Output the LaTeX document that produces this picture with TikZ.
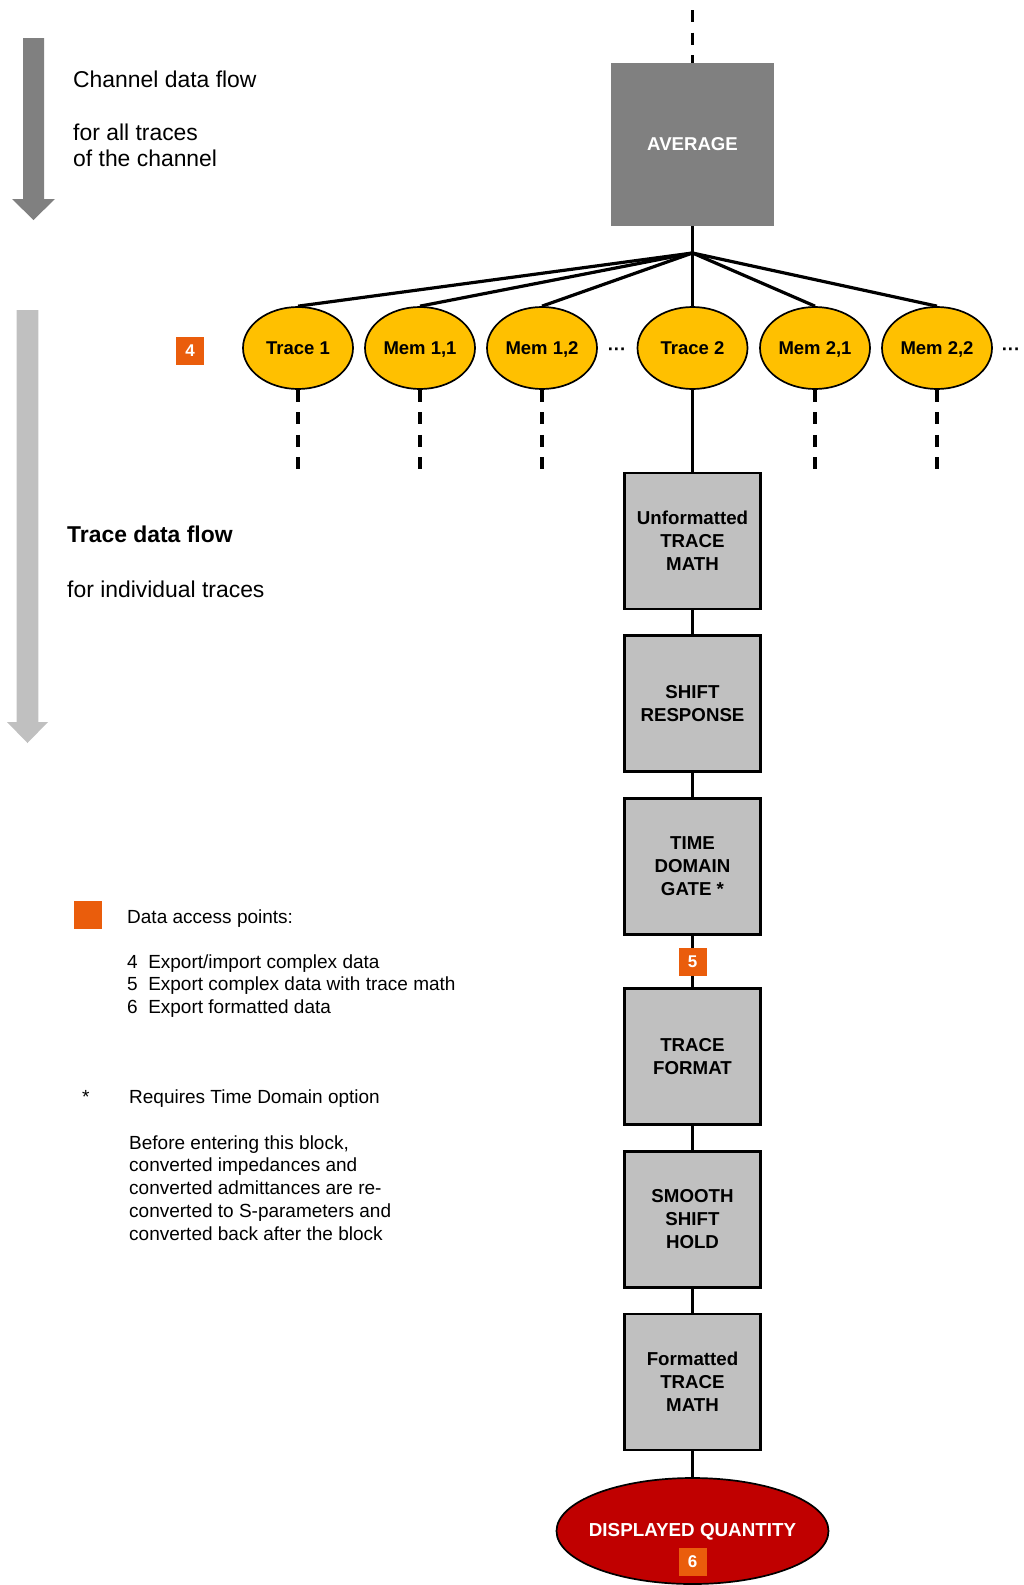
\documentclass[tikz,border=0pt]{standalone}
\usepackage{fontspec}
\setmainfont{Liberation Sans}
\usetikzlibrary{shapes.geometric}
\definecolor{orng}{RGB}{234,93,12}
\definecolor{goldy}{RGB}{255,192,0}
\definecolor{dred}{RGB}{192,0,0}
\definecolor{lgray}{RGB}{192,192,192}
\definecolor{dgray}{RGB}{128,128,128}
\begin{document}
\begin{tikzpicture}[x=1pt,y=-1pt,
  wire/.style={line width=3.2pt},
  dwire/.style={line width=3.8pt, dash pattern=on 12pt off 10.5pt},
  ell/.style={ellipse, draw, line width=1.7pt, fill=goldy, minimum width=110pt, minimum height=82pt, inner sep=0pt, text depth=0pt, font=\fontsize{18.5}{23}\selectfont\bfseries},
  blk/.style={rectangle, draw, line width=2.5pt, fill=lgray, minimum width=136pt, minimum height=136pt, inner sep=0pt, align=center, font=\fontsize{18.7}{23}\selectfont\bfseries},
  accpt/.style={rectangle, fill=orng, text=white, minimum size=28pt, inner sep=0pt, font=\fontsize{17}{17}\selectfont\bfseries},
  bigtxt/.style={anchor=base west, inner sep=0pt, font=\fontsize{22.9}{26.7}\selectfont, align=left},
  smtxt/.style={anchor=base west, inner sep=0pt, font=\fontsize{19}{22.8}\selectfont, align=left},
  dotstxt/.style={anchor=base, inner sep=0pt, font=\fontsize{18.5}{23}\selectfont\bfseries}
]
\useasboundingbox (0,0) rectangle (1024,1585);

% left flow arrows
\fill[dgray] (23,38) -- (44,38) -- (44,199) -- (55,199) -- (33.5,220) -- (12,199) -- (23,199) -- cycle;
\fill[lgray] (16.7,310) -- (38.3,310) -- (38.3,722) -- (48,722) -- (27.5,743) -- (7,722) -- (16.7,722) -- cycle;

% left texts (multi-line nodes: base = last line)
\node[bigtxt] (cdf) at (73,87) {Channel data flow};
\node[bigtxt] (fat) at (73,166.7) {for all traces\\of the channel};
\node[bigtxt, font=\fontsize{22.9}{26.7}\selectfont\bfseries] (tdf) at (67,542) {Trace data flow};
\node[bigtxt] (fit) at (67,597) {for individual traces};

% legend
\node[accpt] (lgsq) at (88,915) {};
\node[smtxt] (dap) at (127,923) {Data access points:};
\node[smtxt] (lgl) at (127,1013.6) {4\hspace{10.5pt}Export/import complex data\\5\hspace{10.5pt}Export complex data with trace math\\6\hspace{10.5pt}Export formatted data};
\node[smtxt] (star) at (82,1103) {*};
\node[smtxt] (req) at (129,1103) {Requires Time Domain option};
\node[smtxt] (bef) at (129,1240.2) {Before entering this block,\\converted impedances and\\converted admittances are re-\\converted to S-parameters and\\converted back after the block};

% average
\node[rectangle, fill=dgray, minimum width=163pt, minimum height=163pt, inner sep=0pt, text=white, font=\fontsize{18.6}{23}\selectfont\bfseries] (avg) at (692.5,144.5) {AVERAGE};
\coordinate (top) at (692.5,10);
\draw[dwire] (top) -- (avg.north);
\coordinate (j) at (692.5,253);
\draw[wire] (avg.south) -- (j);

% traces / memories
\node[ell] (t1) at (298,348) {Trace 1};
\node[ell] (m11) at (420,348) {Mem 1,1};
\node[ell] (m12) at (542,348) {Mem 1,2};
\node[ell] (t2) at (692.5,348) {Trace 2};
\node[ell] (m21) at (815,348) {Mem 2,1};
\node[ell] (m22) at (937,348) {Mem 2,2};
\node[dotstxt] (dt1) at (617,355) {···};
\node[dotstxt] (dt2) at (1011,355) {···};
\node[accpt] (a4) at (190,351) {4};

\foreach \n in {t1,m11,m12,t2,m21,m22} \draw[wire] (j) -- (\n.north);
\foreach \n/\x in {t1/298,m11/420,m12/542,m21/815,m22/937} {
  \coordinate (e\n) at (\x,470);
  \draw[dwire] (\n.south) -- (e\n);
}

% processing chain
\node[blk] (b1) at (692.5,541) {Unformatted\\TRACE\\MATH};
\node[blk] (b2) at (692.5,703.5) {SHIFT\\RESPONSE};
\node[blk] (b3) at (692.5,866.5) {TIME\\DOMAIN\\GATE *};
\node[blk] (b4) at (692.5,1056.5) {TRACE\\FORMAT};
\node[blk] (b5) at (692.5,1219.5) {SMOOTH\\SHIFT\\HOLD};
\node[blk] (b6) at (692.5,1382) {Formatted\\TRACE\\MATH};
\node[ellipse, draw, line width=1.7pt, fill=dred, minimum width=272pt, minimum height=106pt, inner sep=0pt] (disp) at (692.5,1531) {};
\node[inner sep=0pt, text=white, font=\fontsize{18.8}{23}\selectfont\bfseries] (dq) at (692.5,1531.5) {DISPLAYED QUANTITY};

\draw[wire] (t2.south) -- (b1.north);
\draw[wire] (b1.south) -- (b2.north);
\draw[wire] (b2.south) -- (b3.north);
\draw[wire] (b3.south) -- (b4.north);
\draw[wire] (b4.south) -- (b5.north);
\draw[wire] (b5.south) -- (b6.north);
\draw[wire] (b6.south) -- (disp.north);

\node[accpt] (a5) at (692.5,962) {5};
\node[accpt] (a6) at (692.5,1562) {6};
\end{tikzpicture}
\end{document}
